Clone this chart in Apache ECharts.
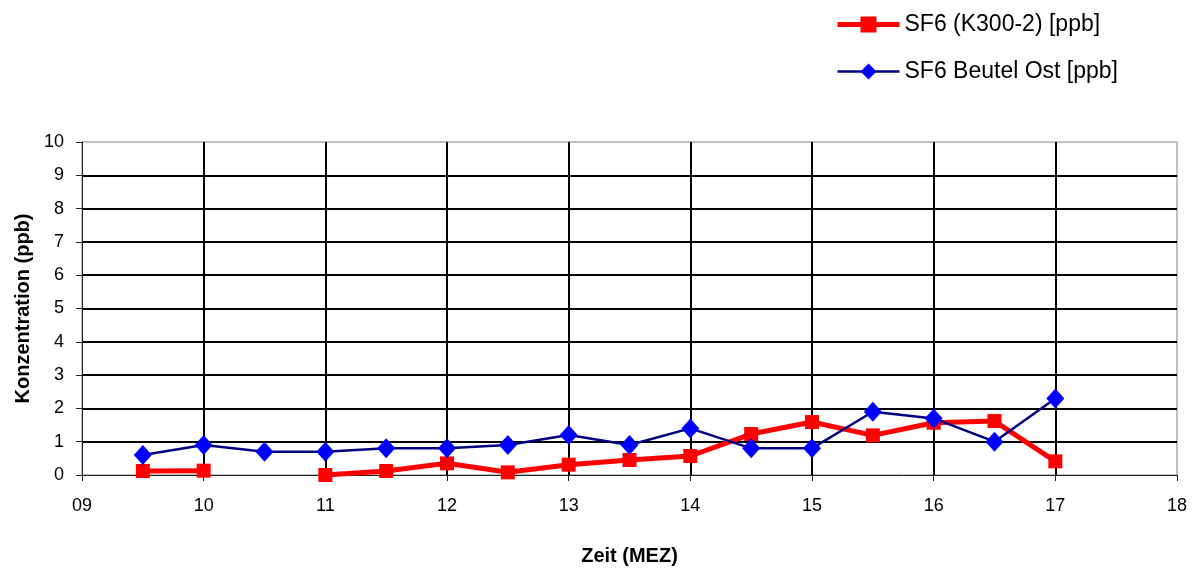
<!DOCTYPE html>
<html>
<head>
<meta charset="utf-8">
<script src="https://cdn.jsdelivr.net/npm/echarts@6/dist/echarts.min.js"></script>
<style>
  html, body { margin: 0; padding: 0; background: #fff; }
  #chart { width: 1200px; height: 569px; }
</style>
</head>
<body>
<div id="chart"></div>
<script>
// Sampling times (hours, MEZ)
const times = [9.5, 10, 10.5, 11, 11.5, 12, 12.5, 13, 13.5, 14, 14.5, 15, 15.5, 16, 16.5, 17];
// SF6 measured with K300-2 (no value at 10:30)
const sf6K300 = [0.12, 0.13, null, 0.0, 0.12, 0.35, 0.08, 0.31, 0.45, 0.57, 1.23, 1.59, 1.19, 1.57, 1.62, 0.41];
// SF6 from bag sampler "Beutel Ost"
const sf6Beutel = [0.6, 0.9, 0.7, 0.7, 0.8, 0.8, 0.9, 1.2, 0.9, 1.4, 0.8, 0.8, 1.9, 1.7, 1.0, 2.3];

const seriesNames = ['SF6 (K300-2) [ppb]', 'SF6 Beutel Ost [ppb]'];
const xAxisName = 'Zeit (MEZ)';
const yAxisName = 'Konzentration (ppb)';

const pair = (xs, ys) => xs.map((x, i) => [x, ys[i]]);

const font = 'Liberation Sans, Arial, sans-serif';
const red = '#ff0000', navy = '#000080', blue = '#0000ff';

const chart = echarts.init(document.getElementById('chart'));
chart.setOption({
  backgroundColor: '#ffffff',
  animation: false,
  textStyle: { fontFamily: font },
  grid: {
    left: 82, right: 23, top: 142, bottom: 94,
    containLabel: false, outerBoundsMode: 'none',
    show: true, borderColor: '#808080', borderWidth: 1, backgroundColor: 'transparent'
  },
  legend: {
    orient: 'vertical',
    left: 830, top: 8,
    itemWidth: 62, itemHeight: 20, itemGap: 24,
    textStyle: { fontSize: 23, color: '#000', fontFamily: font },
    data: [
      { name: seriesNames[0], lineStyle: { color: red, width: 5 }, itemStyle: { color: red } },
      { name: seriesNames[1], lineStyle: { color: navy, width: 2.5 }, itemStyle: { color: blue } }
    ]
  },
  xAxis: {
    type: 'value', min: 9, max: 18, interval: 1,
    name: xAxisName, nameLocation: 'middle', nameGap: 71,
    nameTextStyle: { fontSize: 20, fontWeight: 'bold', color: '#000' },
    axisLine: { show: true, onZero: false, lineStyle: { color: '#222', width: 1 } },
    axisTick: { show: true, inside: false, length: 6, lineStyle: { color: '#222' } },
    axisLabel: {
      fontSize: 18, color: '#000', margin: 22,
      formatter: v => String(v).padStart(2, '0')
    },
    splitLine: { show: true, showMinLine: false, showMaxLine: false, lineStyle: { color: '#000', width: 2 } }
  },
  yAxis: {
    type: 'value', min: 0, max: 10, interval: 1,
    name: yAxisName, nameLocation: 'middle', nameGap: 49,
    nameTextStyle: { fontSize: 20, fontWeight: 'bold', color: '#000' },
    axisLine: { show: true, lineStyle: { color: '#222', width: 1 } },
    axisTick: { show: true, inside: false, length: 6, lineStyle: { color: '#222' } },
    axisLabel: { fontSize: 18, color: '#000', margin: 18 },
    splitLine: { show: true, showMinLine: false, showMaxLine: false, lineStyle: { color: '#000', width: 2 } }
  },
  series: [
    {
      name: seriesNames[0],
      type: 'line',
      data: pair(times, sf6K300),
      connectNulls: false,
      symbol: 'rect', symbolSize: 14,
      lineStyle: { color: red, width: 5 },
      itemStyle: { color: red },
      z: 3
    },
    {
      name: seriesNames[1],
      type: 'line',
      data: pair(times, sf6Beutel),
      symbol: 'diamond', symbolSize: [18, 20],
      lineStyle: { color: navy, width: 2.5 },
      itemStyle: { color: blue },
      z: 4
    }
  ]
});
</script>
</body>
</html>
